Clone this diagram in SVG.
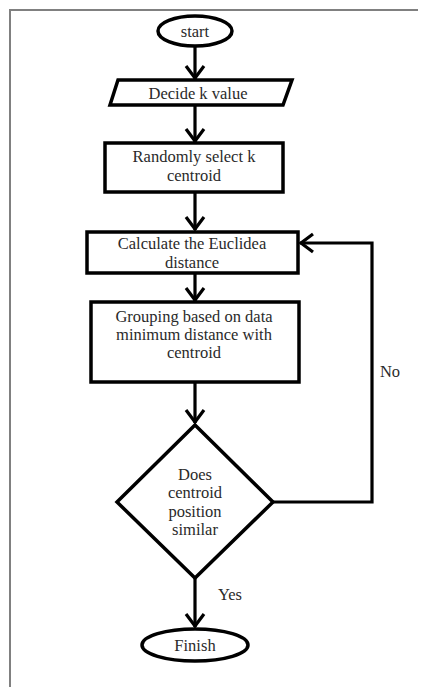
<svg xmlns="http://www.w3.org/2000/svg" width="422" height="687" viewBox="0 0 422 687">
<defs>
<style>
.shape{fill:#fff;stroke:#000;stroke-width:3.5}
.lbl{font-family:"Liberation Serif","Times New Roman",serif;font-size:16.5px;fill:#2a2a2a;text-anchor:middle}
.conn{fill:none;stroke:#000;stroke-width:3.2}
.frame{fill:none;stroke:#808080;stroke-width:2}
</style>
<marker id="arr" viewBox="-16 -12 19 24" markerWidth="19" markerHeight="24" refX="0" refY="0" orient="auto" markerUnits="userSpaceOnUse">
<path d="M-13,-9 L-1,0 L-13,9" fill="none" stroke="#000" stroke-width="3.2"/>
</marker>
</defs>
<rect width="422" height="687" fill="#fff"/>
<path class="frame" d="M418,10 H10 V687"/>
<g id="connectors">
<path class="conn" d="M195,46 V79" marker-end="url(#arr)"/>
<path class="conn" d="M195,105 V142" marker-end="url(#arr)"/>
<path class="conn" d="M195,192 V230" marker-end="url(#arr)"/>
<path class="conn" d="M195,273 V301" marker-end="url(#arr)"/>
<path class="conn" d="M195,382 V423" marker-end="url(#arr)"/>
<path class="conn" d="M273,502 H372 V243 H300" marker-end="url(#arr)"/>
<path class="conn" d="M195,578 V627" marker-end="url(#arr)"/>
<text class="lbl" x="390" y="377">No</text>
<text class="lbl" x="230" y="600">Yes</text>
</g>
<g id="start">
<ellipse class="shape" cx="195" cy="31" rx="37" ry="15"/>
<text class="lbl" x="195" y="37">start</text>
</g>
<g id="decide">
<polygon class="shape" points="118,80 292,80 283,105 110,105"/>
<text class="lbl" x="198" y="99">Decide k value</text>
</g>
<g id="random">
<rect class="shape" x="105" y="143" width="178" height="49"/>
<text class="lbl" x="194" y="162">Randomly select k</text>
<text class="lbl" x="194" y="181">centroid</text>
</g>
<g id="calculate">
<rect class="shape" x="87" y="232" width="211" height="41"/>
<text class="lbl" x="192" y="249">Calculate the Euclidea</text>
<text class="lbl" x="192" y="268">distance</text>
</g>
<g id="grouping">
<rect class="shape" x="91" y="302" width="208" height="80"/>
<text class="lbl" x="194" y="322">Grouping based on data</text>
<text class="lbl" x="194" y="340">minimum distance with</text>
<text class="lbl" x="194" y="358">centroid</text>
</g>
<g id="decision">
<polygon class="shape" points="195,425 273,502 195,578 117,502"/>
<text class="lbl" x="195" y="480">Does</text>
<text class="lbl" x="195" y="498">centroid</text>
<text class="lbl" x="195" y="517">position</text>
<text class="lbl" x="195" y="535">similar</text>
</g>
<g id="finish">
<ellipse class="shape" cx="195" cy="645" rx="53" ry="16"/>
<text class="lbl" x="195" y="651">Finish</text>
</g>
</svg>
